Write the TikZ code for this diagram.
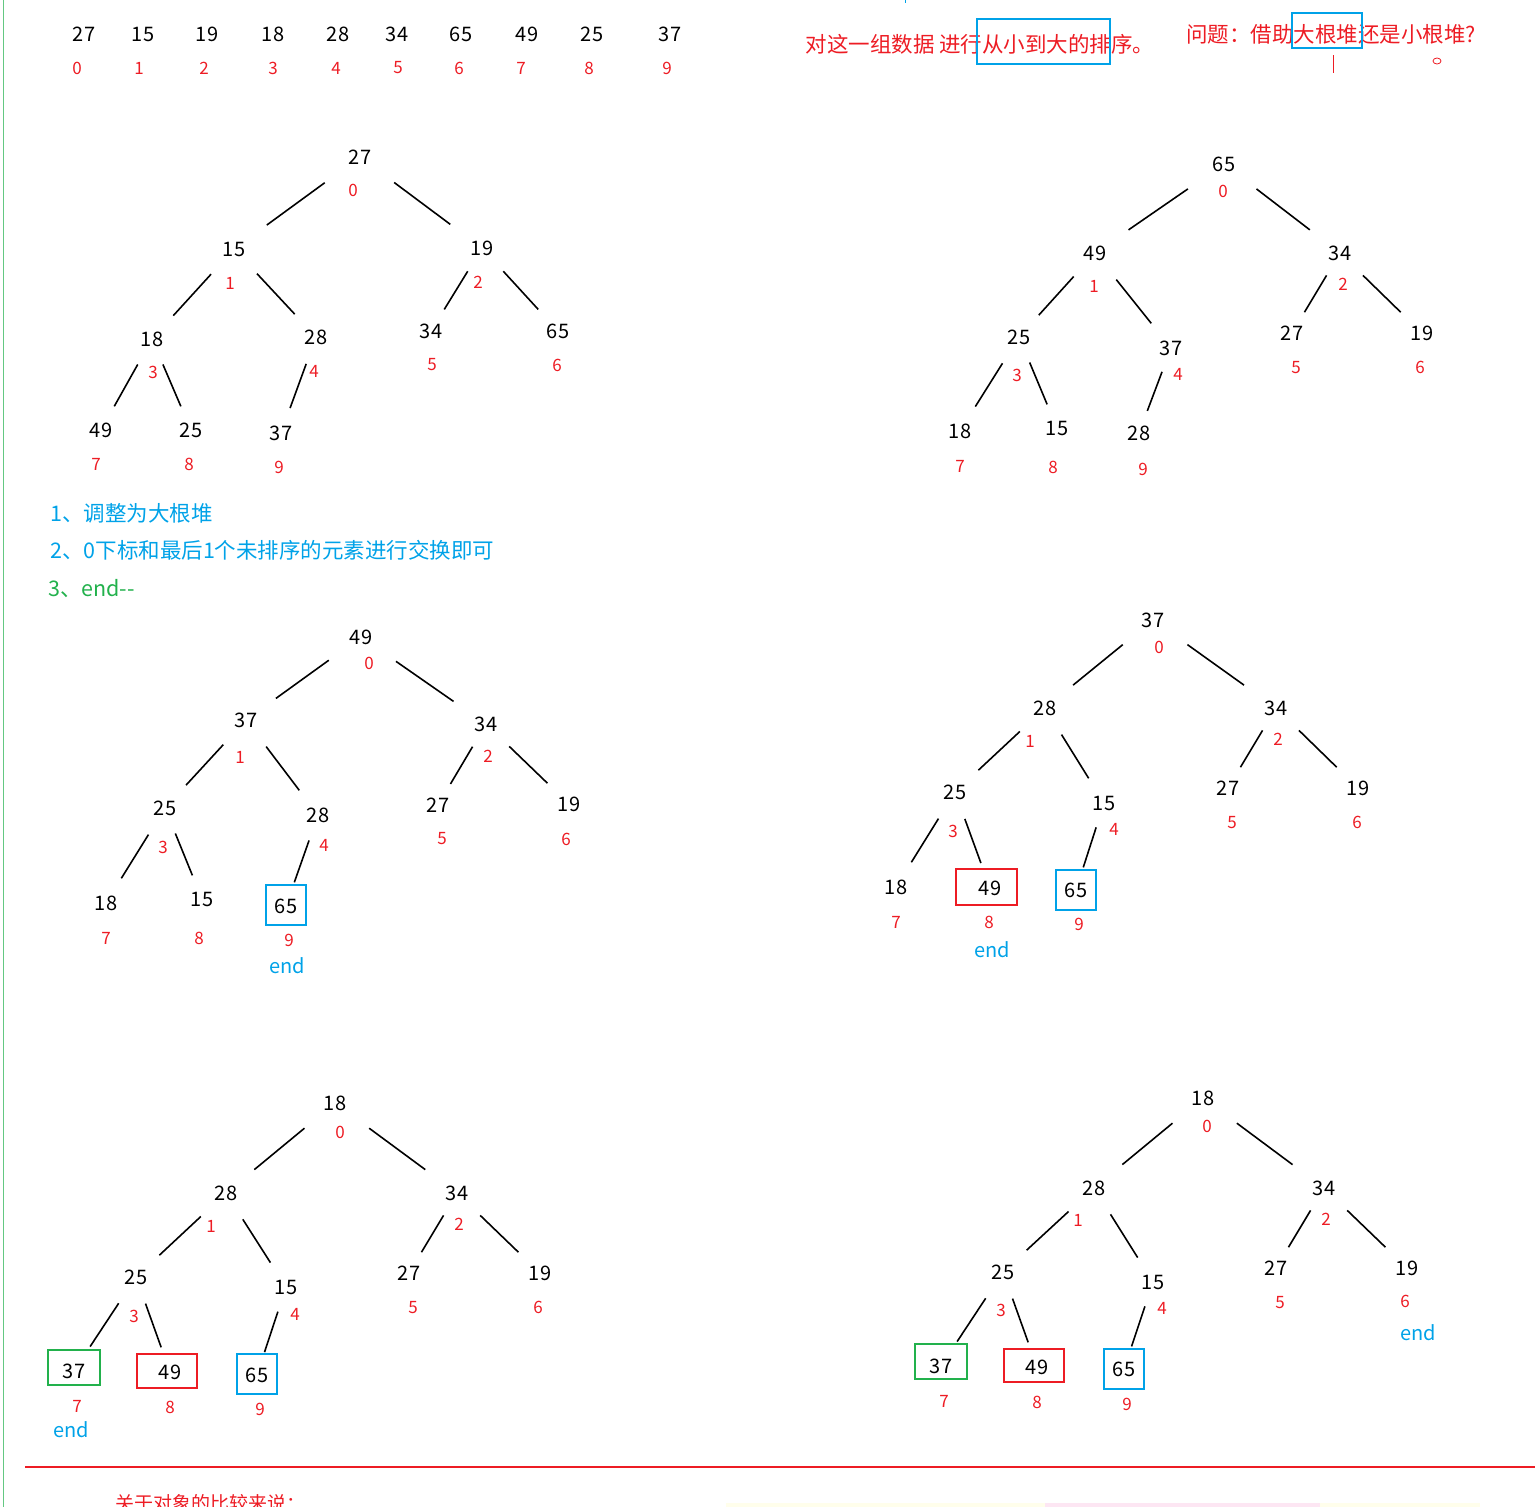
\documentclass[tikz,border=0pt]{standalone}
\usepackage{fontspec}
\setmainfont{Noto Sans CJK SC}
\usetikzlibrary{calc}
\definecolor{myblue}{RGB}{0,162,232}
\definecolor{myred}{RGB}{237,28,36}
\definecolor{mygreen}{RGB}{34,177,76}
\newcommand\tn[7]{\node[val] (#1) at (#2,#3) {#4}; \node[idx] (#1i) at (#5,#6) {#7};}
\newcommand\ed[2]{\draw[edge] ($(#1)!.28!(#2)$) -- ($(#1)!.74!(#2)$);}
\begin{document}
\begin{tikzpicture}[x=1pt,y=-1pt,
 val/.style={font=\fontsize{20}{22}\selectfont,inner sep=1pt},
 idx/.style={font=\fontsize{17}{19}\selectfont,text=myred,inner sep=1pt},
 edge/.style={line width=1.6pt},
 note/.style={font=\fontsize{21.5}{23}\selectfont,anchor=west,inner sep=0pt}]
\useasboundingbox (0,0) rectangle (1535,1507);
\draw[mygreen!70,line width=0.8pt] (3,0) -- (3,1507);
\draw[myblue,line width=1pt] (905,0) -- (905,3);
% top row
\foreach \v/\x/\ix [count=\i from 0] in {27/84/77,15/143/139,19/207/204,18/273/273,28/338/336,34/397/398,65/461/459,49/527/521,25/592/589,37/670/667}{
 \node[val] (r\i) at (\x,34) {\v}; \node[idx] (r\i i) at (\ix,68) {\i};}
\node[font=\fontsize{21.5}{23}\selectfont,text=myred,inner sep=0pt] (h1) at (980,44) {对这一组数据 进行从小到大的排序。};
\node[draw=myblue,line width=1.8pt,minimum width=133pt,minimum height=45pt,inner sep=0pt] (h1b) at (1043.5,41.5) {};
\node[font=\fontsize{21.5}{23}\selectfont,text=myred,inner sep=0pt] (h2) at (1331,34) {问题：借助大根堆还是小根堆?};
\node[draw=myblue,line width=1.8pt,minimum width=70pt,minimum height=35pt,inner sep=0pt] (h2b) at (1327,30.5) {};
\draw[myred,line width=1pt] (1333,55) -- (1333,73);
\draw[myred,line width=0.8pt] (1437,61) ellipse (4 and 3);
% tree 1
\tn{a0}{360}{157}{27}{353}{190}{0}
\tn{a1}{234}{249}{15}{230}{283}{1}
\tn{a2}{482}{248}{19}{478}{282}{2}
\tn{a3}{152}{339}{18}{153}{372}{3}
\tn{a4}{316}{337}{28}{314}{371}{4}
\tn{a5}{431}{331}{34}{432}{365}{5}
\tn{a6}{558}{331}{65}{557}{365}{6}
\tn{a7}{101}{430}{49}{96}{464}{7}
\tn{a8}{191}{430}{25}{189}{464}{8}
\tn{a9}{281}{433}{37}{279}{467}{9}
\ed{a0}{a1}\ed{a0}{a2}\ed{a1}{a3}\ed{a1}{a4}\ed{a2}{a5}\ed{a2}{a6}\ed{a3}{a7}\ed{a3}{a8}\ed{a4}{a9}
% tree 2
\tn{b0}{1224}{164}{65}{1223}{191}{0}
\tn{b1}{1095}{253}{49}{1094}{286}{1}
\tn{b2}{1340}{253}{34}{1343}{284}{2}
\tn{b3}{1019}{337}{25}{1017}{375}{3}
\tn{b4}{1171}{348}{37}{1178}{374}{4}
\tn{b5}{1292}{333}{27}{1296}{368}{5}
\tn{b6}{1422}{333}{19}{1420}{367}{6}
\tn{b7}{960}{431}{18}{960}{466}{7}
\tn{b8}{1057}{428}{15}{1053}{467}{8}
\tn{b9}{1139}{433}{28}{1143}{469}{9}
\ed{b0}{b1}\ed{b0}{b2}\ed{b1}{b3}\ed{b1}{b4}\ed{b2}{b5}\ed{b2}{b6}\ed{b3}{b7}\ed{b3}{b8}\ed{b4}{b9}
% notes
\node[note,text=myblue] (n1) at (50,513) {1、调整为大根堆};
\node[note,text=myblue] (n2) at (50,550) {2、0下标和最后1个未排序的元素进行交换即可};
\node[note,text=mygreen] (n3) at (48,589) {3、end{-}{-}};
% tree 3
\tn{c0}{361}{637}{49}{369}{663}{0}
\tn{c1}{246}{720}{37}{240}{757}{1}
\tn{c2}{486}{724}{34}{488}{756}{2}
\tn{c3}{165}{808}{25}{163}{847}{3}
\tn{c4}{318}{815}{28}{324}{845}{4}
\tn{c5}{438}{805}{27}{442}{839}{5}
\tn{c6}{569}{804}{19}{566}{839}{6}
\tn{c7}{106}{903}{18}{106}{938}{7}
\tn{c8}{202}{899}{15}{199}{938}{8}
\tn{c9}{286}{906}{65}{289}{940}{9}
\node[draw=myblue,line width=1.8pt,minimum width=40pt,minimum height=40pt] (c9b) at (286,905) {};
\node[val,text=myblue] (c9e) at (287,966) {end};
\ed{c0}{c1}\ed{c0}{c2}\ed{c1}{c3}\ed{c1}{c4}\ed{c2}{c5}\ed{c2}{c6}\ed{c3}{c7}\ed{c3}{c8}\ed{c4}{c9}
% tree 4
\tn{d0}{1153}{620}{37}{1159}{647}{0}
\tn{d1}{1045}{708}{28}{1030}{741}{1}
\tn{d2}{1276}{708}{34}{1278}{739}{2}
\tn{d3}{955}{792}{25}{953}{831}{3}
\tn{d4}{1104}{803}{15}{1114}{829}{4}
\tn{d5}{1228}{788}{27}{1232}{823}{5}
\tn{d6}{1358}{788}{19}{1357}{822}{6}
\tn{d7}{896}{887}{18}{896}{922}{7}
\tn{d8}{990}{888}{49}{989}{922}{8}
\tn{d9}{1076}{890}{65}{1079}{924}{9}
\node[draw=myred,line width=1.8pt,minimum width=61pt,minimum height=36pt] (d8b) at (986.5,887) {};
\node[draw=myblue,line width=1.8pt,minimum width=40pt,minimum height=40pt] (d9b) at (1076,890) {};
\node[val,text=myblue] (d8e) at (992,950) {end};
\ed{d0}{d1}\ed{d0}{d2}\ed{d1}{d3}\ed{d1}{d4}\ed{d2}{d5}\ed{d2}{d6}\ed{d3}{d7}\ed{d3}{d8}\ed{d4}{d9}
% tree 5
\tn{e0}{335}{1103}{18}{340}{1132}{0}
\tn{e1}{226}{1193}{28}{211}{1226}{1}
\tn{e2}{457}{1193}{34}{459}{1224}{2}
\tn{e3}{136}{1277}{25}{134}{1316}{3}
\tn{e4}{286}{1287}{15}{295}{1314}{4}
\tn{e5}{409}{1273}{27}{413}{1308}{5}
\tn{e6}{540}{1273}{19}{538}{1307}{6}
\tn{e7}{74}{1371}{37}{77}{1406}{7}
\tn{e8}{170}{1372}{49}{170}{1407}{8}
\tn{e9}{257}{1375}{65}{260}{1409}{9}
\node[draw=mygreen,line width=1.8pt,minimum width=52pt,minimum height=35pt] (e7b) at (74,1367.5) {};
\node[draw=myred,line width=1.8pt,minimum width=60pt,minimum height=34pt] (e8b) at (167,1371) {};
\node[draw=myblue,line width=1.8pt,minimum width=40pt,minimum height=40pt] (e9b) at (257,1374) {};
\node[val,text=myblue] (e7e) at (71,1430) {end};
\ed{e0}{e1}\ed{e0}{e2}\ed{e1}{e3}\ed{e1}{e4}\ed{e2}{e5}\ed{e2}{e6}\ed{e3}{e7}\ed{e3}{e8}\ed{e4}{e9}
% tree 6
\tn{f0}{1203}{1098}{18}{1207}{1126}{0}
\tn{f1}{1094}{1188}{28}{1078}{1220}{1}
\tn{f2}{1324}{1188}{34}{1326}{1219}{2}
\tn{f3}{1003}{1272}{25}{1001}{1310}{3}
\tn{f4}{1153}{1282}{15}{1162}{1308}{4}
\tn{f5}{1276}{1268}{27}{1280}{1303}{5}
\tn{f6}{1407}{1268}{19}{1405}{1301}{6}
\tn{f7}{941}{1366}{37}{944}{1401}{7}
\tn{f8}{1037}{1367}{49}{1037}{1402}{8}
\tn{f9}{1124}{1369}{65}{1127}{1404}{9}
\node[draw=mygreen,line width=1.8pt,minimum width=52pt,minimum height=35pt] (f7b) at (941,1361.5) {};
\node[draw=myred,line width=1.8pt,minimum width=60pt,minimum height=33pt] (f8b) at (1034,1365.5) {};
\node[draw=myblue,line width=1.8pt,minimum width=40pt,minimum height=40pt] (f9b) at (1124,1369) {};
\node[val,text=myblue] (f6e) at (1418,1333) {end};
\ed{f0}{f1}\ed{f0}{f2}\ed{f1}{f3}\ed{f1}{f4}\ed{f2}{f5}\ed{f2}{f6}\ed{f3}{f7}\ed{f3}{f8}\ed{f4}{f9}
% bottom
\draw[myred,line width=2pt] (25,1467) -- (1535,1467);
\fill[yellow!8] (726,1503) rectangle (1480,1507);
\fill[magenta!10] (1045,1503) rectangle (1320,1507);
\node[font=\fontsize{19}{21}\selectfont,text=myred,anchor=west,inner sep=0pt] (bt) at (115,1503) {关于对象的比较来说：};
\end{tikzpicture}
\end{document}
